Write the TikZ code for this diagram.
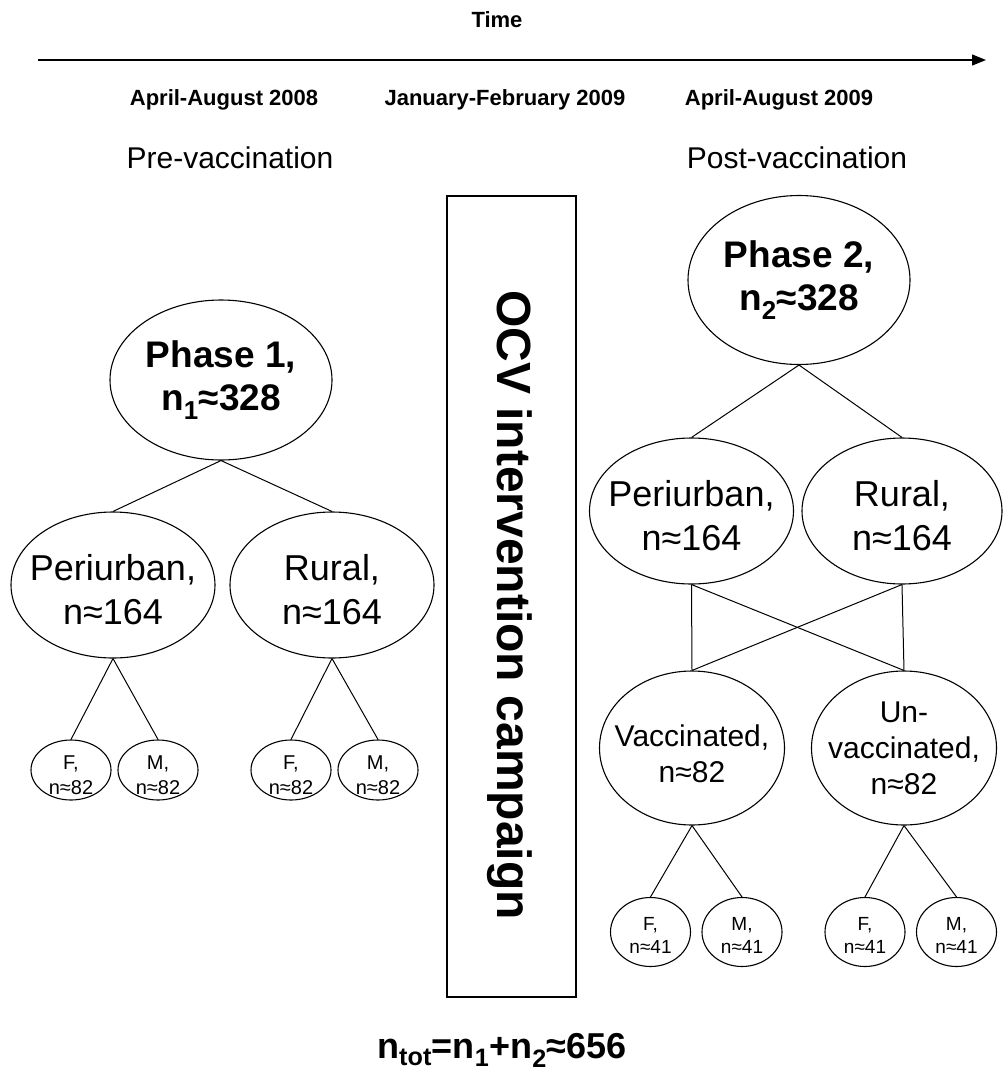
\documentclass[tikz,border=0pt]{standalone}
\usepackage{fontspec}
\setmainfont{Liberation Sans}
\usetikzlibrary{shapes.geometric,arrows.meta}

\tikzset{
  oval/.style={ellipse, draw, line width=1.1pt, inner sep=-20pt, align=center},
  phase/.style={oval, minimum width=222pt, font=\bfseries\fontsize{37}{43}\selectfont},
  stratum/.style={oval, minimum width=204pt, minimum height=146pt, text height=80pt, font=\fontsize{36}{44}\selectfont},
  vaccgroup/.style={oval, minimum width=185pt, minimum height=154pt, font=\fontsize{30}{36}\selectfont},
  sexl/.style={oval, minimum width=80pt, minimum height=60pt, text height=50pt, font=\fontsize{20}{25}\selectfont},
  sexr/.style={oval, minimum width=80pt, minimum height=69pt, text height=43pt, font=\fontsize{19}{23}\selectfont},
  datelabel/.style={anchor=base, font=\bfseries\fontsize{22}{26}\selectfont},
  periodlabel/.style={anchor=base, font=\fontsize{30}{36}\selectfont}
}

\begin{document}
\begin{tikzpicture}[x=1pt, y=-1pt, line width=1pt]
  \useasboundingbox (0,0) rectangle (1002,1074);

  % Time axis
  \node[font=\bfseries\fontsize{22}{26}\selectfont] (time) at (497,20) {Time};
  \coordinate (tstart) at (38,60);
  \coordinate (tend) at (986,60);
  \draw[line width=1.3pt, -{Triangle[length=14pt,width=11pt]}] (tstart) -- (tend);

  % Dates and periods
  \node[datelabel] (date1) at (224,105) {April-August 2008};
  \node[datelabel] (date2) at (505,105) {January-February 2009};
  \node[datelabel] (date3) at (779,105) {April-August 2009};
  \node[periodlabel] (pre) at (230,168) {Pre-vaccination};
  \node[periodlabel] (post) at (797,168) {Post-vaccination};

  % Campaign box
  \node[draw, line width=1.1pt, minimum width=129pt, minimum height=801pt, inner sep=0pt] (ocvbox) at (511.5,596.5) {};
  \node[rotate=-90, font=\bfseries\fontsize{48}{56}\selectfont] (ocvtext) at (510,605) {OCV intervention campaign};

  % Phase 1 tree
  \node[phase, minimum height=160pt] (p1) at (221,380) {Phase 1,\\n\textsubscript{1}≈328};
  \node[stratum] (peril) at (113,585) {Periurban,\\n≈164};
  \node[stratum] (rurall) at (332,585) {Rural,\\n≈164};
  \node[sexl] (fl1) at (71,770) {F,\\n≈82};
  \node[sexl] (ml1) at (158,770) {M,\\n≈82};
  \node[sexl] (fl2) at (291,770) {F,\\n≈82};
  \node[sexl] (ml2) at (378,770) {M,\\n≈82};
  \draw (p1.south) -- (peril.north);
  \draw (p1.south) -- (rurall.north);
  \draw (peril.south) -- (fl1.north);
  \draw (peril.south) -- (ml1.north);
  \draw (rurall.south) -- (fl2.north);
  \draw (rurall.south) -- (ml2.north);

  % Phase 2 tree
  \node[phase, minimum height=169pt] (p2) at (799,280) {Phase 2,\\n\textsubscript{2}≈328};
  \node[stratum] (perir) at (691.5,511) {Periurban,\\n≈164};
  \node[stratum, minimum width=200pt] (ruralr) at (902,511) {Rural,\\n≈164};
  \node[vaccgroup, text height=70pt] (vacc) at (692,748) {Vaccinated,\\n≈82};
  \node[vaccgroup] (unvacc) at (904,748) {Un-\\vaccinated,\\n≈82};
  \node[sexr] (fr1) at (650.5,932) {F,\\n≈41};
  \node[sexr] (mr1) at (742,932) {M,\\n≈41};
  \node[sexr] (fr2) at (865,932) {F,\\n≈41};
  \node[sexr] (mr2) at (956.5,932) {M,\\n≈41};
  \draw (p2.south) -- (perir.north);
  \draw (p2.south) -- (ruralr.north);
  \draw (perir.south) -- (vacc.north);
  \draw (perir.south) -- (unvacc.north);
  \draw (ruralr.south) -- (vacc.north);
  \draw (ruralr.south) -- (unvacc.north);
  \draw (vacc.south) -- (fr1.north);
  \draw (vacc.south) -- (mr1.north);
  \draw (unvacc.south) -- (fr2.north);
  \draw (unvacc.south) -- (mr2.north);

  % Total
  \node[anchor=base, font=\bfseries\fontsize{36}{42}\selectfont] (total) at (502,1058)
    {n\textsubscript{tot}=n\textsubscript{1}+n\textsubscript{2}≈656};
\end{tikzpicture}
\end{document}
